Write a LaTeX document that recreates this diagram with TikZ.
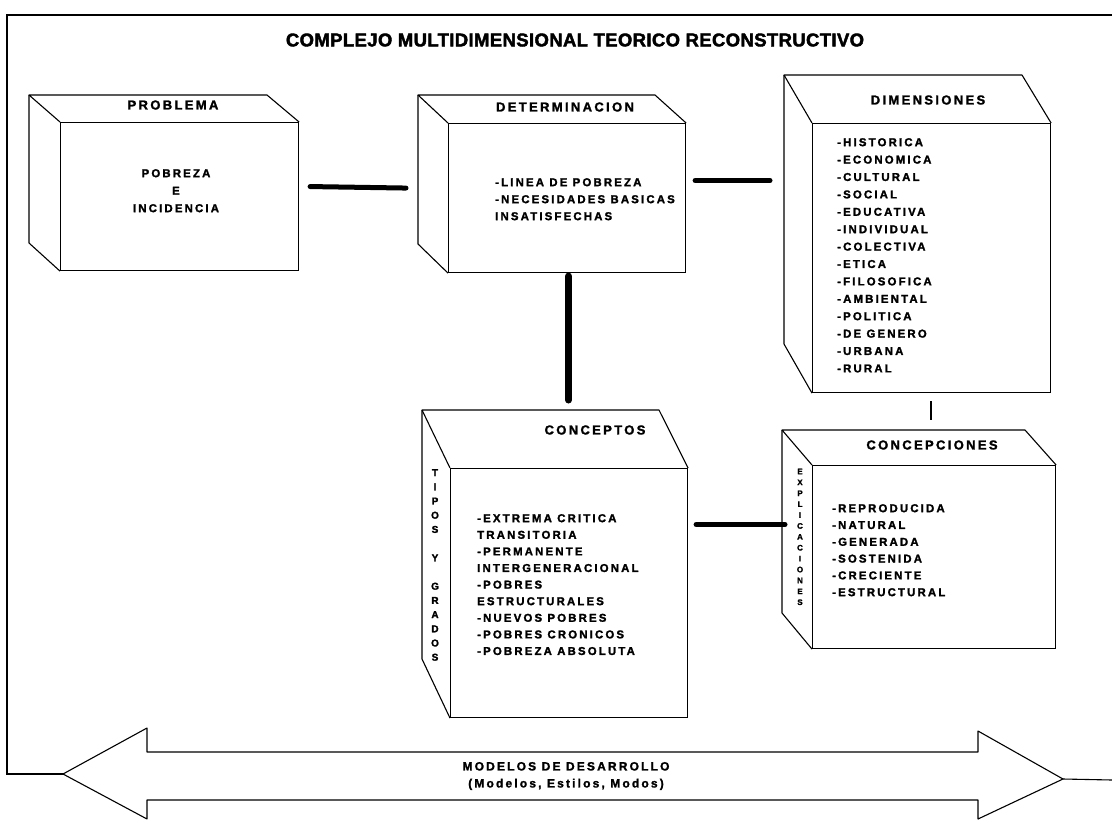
\documentclass[tikz,border=0pt]{standalone}
\usepackage{fontspec}
\setmainfont{Liberation Sans}
\newfontfamily\wideA[LetterSpace=18, BoldFeatures={FakeBold=1.6}]{Liberation Sans}
\newfontfamily\wideL[LetterSpace=19, BoldFeatures={FakeBold=1.8}]{Liberation Sans}
\newfontfamily\wideT[LetterSpace=2, BoldFeatures={FakeBold=2.2}]{Liberation Sans}
\newfontfamily\heavy[BoldFeatures={FakeBold=1.8}]{Liberation Sans}
\newcommand\cubebox[7]{%
  \node[box, minimum width=#4, minimum height=#5] (#1) at (#2,#3) {};
  \draw[face] (#1.north west) -- ++(-#6,-#7) -- ++(#4,0) -- (#1.north east);
  \draw[face] (#1.north west) ++(-#6,-#7) -- ++(0,#5) -- (#1.south west);
}
\tikzset{
  box/.style={draw, line width=1.1pt, inner sep=0pt, anchor=north west},
  face/.style={draw, line width=1.1pt, line join=round},
  hd/.style={font={\wideA\bfseries\fontsize{13}{14}\selectfont}, inner sep=0pt},
  lst/.style={font={\wideL\bfseries\fontsize{11.4}{#1}\selectfont}, inner sep=0pt, anchor=north west, align=left},
  vert/.style={font={\heavy\bfseries\fontsize{#1}{#1}\selectfont}, inner sep=0pt, anchor=north, align=center},
  conn/.style={line width=5pt, line cap=round},
}
\begin{document}
\begin{tikzpicture}[x=1pt,y=-1pt]
\useasboundingbox (0,0) rectangle (1112,820);
% title
\node[font={\wideT\bfseries\fontsize{18.5}{20}\selectfont}, inner sep=0pt] (title) at (575,40) {COMPLEJO MULTIDIMENSIONAL TEORICO RECONSTRUCTIVO};
% boxes
\cubebox{prob}{60}{122}{238}{148}{31}{27}
\cubebox{det}{448}{123}{237}{149}{30}{28}
\cubebox{dim}{812}{123}{238}{269}{28}{48}
\cubebox{conc}{450}{468}{237}{249}{28}{58}
\cubebox{ccp}{812}{465}{243}{183}{30}{35}
% headings
\node[hd] (probh) at (173,105) {PROBLEMA};
\node[hd] (deth) at (565,107) {DETERMINACION};
\node[hd] (dimh) at (928,100) {DIMENSIONES};
\node[hd] (conch) at (595,430) {CONCEPTOS};
\node[hd] (ccph) at (932,445) {CONCEPCIONES};
% contents
\node[lst=17.5, align=center, anchor=north] (probt) at (176,169) {POBREZA\\E\\INCIDENCIA};
\node[lst=17] (dett) at (495,178) {-LINEA DE POBREZA\\-NECESIDADES BASICAS\\INSATISFECHAS};
\node[lst=17.4] (dimt) at (837,138) {-HISTORICA\\-ECONOMICA\\-CULTURAL\\-SOCIAL\\-EDUCATIVA\\-INDIVIDUAL\\-COLECTIVA\\-ETICA\\-FILOSOFICA\\-AMBIENTAL\\-POLITICA\\-DE GENERO\\-URBANA\\-RURAL};
\node[lst=16.6] (conct) at (477,514) {-EXTREMA CRITICA\\TRANSITORIA\\-PERMANENTE\\INTERGENERACIONAL\\-POBRES\\ESTRUCTURALES\\-NUEVOS POBRES\\-POBRES CRONICOS\\-POBREZA ABSOLUTA};
\node[lst=16.8] (ccpt) at (832,504) {-REPRODUCIDA\\-NATURAL\\-GENERADA\\-SOSTENIDA\\-CRECIENTE\\-ESTRUCTURAL};
% side vertical texts
\node[vert=10, font={\heavy\bfseries\fontsize{10}{14.2}\selectfont}] (tipos) at (435,469) {T\\I\\P\\O\\S\\~\\Y\\~\\G\\R\\A\\D\\O\\S};
\node[vert=8, font={\heavy\bfseries\fontsize{8}{10.9}\selectfont}] (expl) at (800,468.5) {E\\X\\P\\L\\I\\C\\A\\C\\I\\O\\N\\E\\S};
% connectors
\draw[conn] ([shift={(11,-10)}]prob.east) -- ([shift={(-42,-10)}]det.west);
\draw[conn] ([shift={(9,-17.5)}]det.east) -- ([shift={(-42,-77.5)}]dim.west);
\draw[line width=7pt, line cap=round] ([shift={(1.5,3)}]det.south) -- ([shift={(-0.5,-68)}]conc.north);
\draw[line width=2pt] ([shift={(-1,8)}]dim.south) -- ([shift={(-3.5,-45)}]ccp.north);
\draw[conn] ([shift={(8,-68.5)}]conc.east) -- ([shift={(-27,-32.5)}]ccp.west);
% bottom double arrow and frame
\coordinate (tipL) at (63,774);
\coordinate (tipR) at (1063,779);
\draw[face] (tipL) -- (147,728) -- (147,752) -- (978,752) -- (978,731) -- (tipR) -- (978,819) -- (978,800) -- (147,800) -- (147,819) -- cycle;
\node[align=center, font={\wideA\bfseries\fontsize{12}{17}\selectfont}, inner sep=0pt] (modelos) at (566,776) {MODELOS DE DESARROLLO\\(Modelos, Estilos, Modos)};
\draw[line width=1.1pt] (1112,15) -- (7,15) -- (7,774) -- (tipL);
\draw[line width=1.1pt] (tipR) -- (1112,780);
\end{tikzpicture}
\end{document}
